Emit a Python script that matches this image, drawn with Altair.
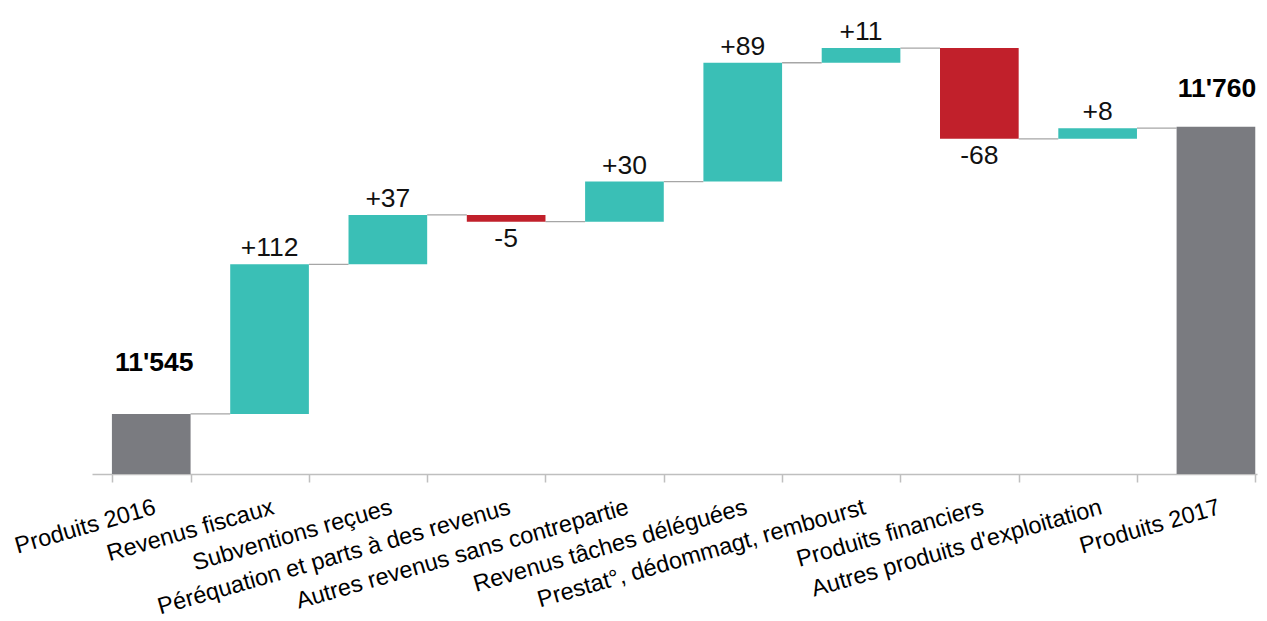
import altair as alt
import pandas as pd

categories = [
    "Produits 2016",
    "Revenus fiscaux",
    "Subventions reçues",
    "Péréquation et parts à des revenus",
    "Autres revenus sans contrepartie",
    "Revenus tâches déléguées",
    "Prestat°, dédommagt, rembourst",
    "Produits financiers",
    "Autres produits d'exploitation",
    "Produits 2017",
]
values = [11545, 112, 37, -5, 30, 89, 11, -68, 8, 11760]
kinds = ["total", "delta", "delta", "delta", "delta", "delta", "delta", "delta", "delta", "total"]

rows = []
running = 0
for cat, v, k in zip(categories, values, kinds):
    if k == "total":
        start, end = 0, v
        running = v
        label = f"{v:,}".replace(",", "'")
        kind = "total"
    else:
        start = running
        end = running + v
        running = end
        label = f"{v:+d}"
        kind = "up" if v > 0 else "down"
    rows.append(dict(cat=cat, start=start, end=end, label=label, kind=kind, level=running))
df = pd.DataFrame(rows)

conn = pd.DataFrame(
    [
        dict(cat=categories[i], nxt=categories[i + 1], level=rows[i]["level"])
        for i in range(len(categories) - 1)
    ]
)

FONT = "Liberation Sans"

xscale = alt.Scale(domain=categories, paddingInner=0.335, paddingOuter=0.0915, align=0.92, round=False)
yscale = alt.Scale(domain=[11500, 11849], clamp=True, nice=False, zero=False)

xaxis = alt.Axis(
    title=None,
    labelAngle=344,
    labelFontSize=23.5,
    labelFont=FONT,
    labelColor="#000000",
    labelAlign="right",
    labelBaseline="top",
    labelPadding=13,
    labelLimit=600,
    labelOverlap=False,
    tickBand="extent",
    tickSize=8,
    tickColor="#BFBFBF",
    domainColor="#BFBFBF",
    domainWidth=1.5,
    tickWidth=1.5,
    grid=False,
)

rules = alt.Chart(conn).mark_rule(color="#A6A6A6", strokeWidth=1.3).encode(
    x=alt.X("cat:N", scale=xscale, axis=xaxis, bandPosition=1),
    x2=alt.X2("nxt:N", bandPosition=0),
    y=alt.Y("level:Q", scale=yscale, axis=None),
)

bars = alt.Chart(df).mark_bar().encode(
    x=alt.X("cat:N", scale=xscale, axis=xaxis),
    y=alt.Y("start:Q", scale=yscale, axis=None),
    y2="end:Q",
    color=alt.Color(
        "kind:N",
        scale=alt.Scale(domain=["total", "up", "down"], range=["#7A7B80", "#3ABFB6", "#C1202B"]),
        legend=None,
    ),
)

up_text = alt.Chart(df).transform_filter(alt.datum.kind == "up").mark_text(
    font=FONT, fontSize=26.5, color="#111111", baseline="alphabetic", dy=-8
).encode(x=alt.X("cat:N", scale=xscale), y=alt.Y("end:Q", scale=yscale), text="label:N")

down_text = alt.Chart(df).transform_filter(alt.datum.kind == "down").mark_text(
    font=FONT, fontSize=26.5, color="#111111", baseline="top", dy=4
).encode(x=alt.X("cat:N", scale=xscale), y=alt.Y("end:Q", scale=yscale), text="label:N")

first_total = alt.Chart(df).transform_filter(alt.datum.cat == categories[0]).mark_text(
    font=FONT, fontSize=26.5, fontWeight="bold", color="#000000", baseline="alphabetic", dy=-43, dx=3
).encode(x=alt.X("cat:N", scale=xscale), y=alt.Y("end:Q", scale=yscale), text="label:N")

last_total = alt.Chart(df).transform_filter(alt.datum.cat == categories[-1]).mark_text(
    font=FONT, fontSize=26.5, fontWeight="bold", color="#000000", baseline="alphabetic", dy=-30, dx=1
).encode(x=alt.X("cat:N", scale=xscale), y=alt.Y("end:Q", scale=yscale), text="label:N")

chart = (
    alt.layer(rules, bars, up_text, down_text, first_total, last_total)
    .properties(
        width=1165,
        height=466,
        autosize=alt.AutoSizeParams(type="none"),
        padding={"left": 84, "top": 0, "right": 2, "bottom": 147},
        background="#FFFFFF",
    )
    .configure_view(stroke=None)
)

chart.save("out.html", embed_options={"renderer": "svg", "actions": False})
